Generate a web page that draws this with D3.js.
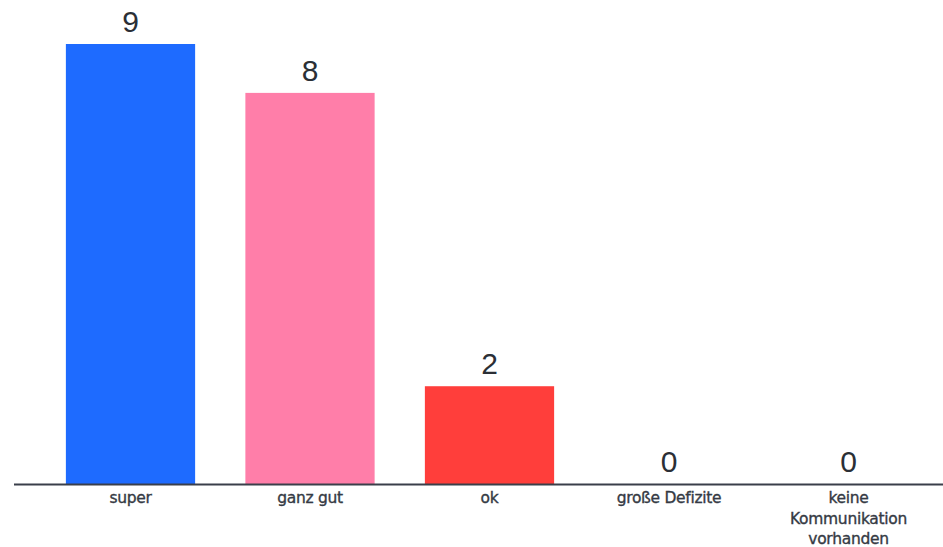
<!DOCTYPE html>
<html><head><meta charset="utf-8">
<script src="https://cdn.jsdelivr.net/npm/d3@7"></script>
<style>
html,body{margin:0;padding:0;background:#fff;}
svg{display:block;}
</style></head>
<body>
<svg id="chart" width="943" height="547"></svg>
<script>
const categories = ["super", "ganz gut", "ok", "große Defizite", "keine Kommunikation vorhanden"];
const categoryLines = [["super"], ["ganz gut"], ["ok"], ["große Defizite"], ["keine", "Kommunikation", "vorhanden"]];
const values = [9, 8, 2, 0, 0];
const colors = ["#1e6bff", "#ff7ea9", "#ff3e3b", "#999999", "#999999"];

const svg = d3.select("#chart");
const baseY = 484;
const x = d3.scaleBand().domain(categories).range([40.75, 938.25]).paddingInner(0.28).paddingOuter(0.14);
const y = d3.scaleLinear().domain([0, 9]).range([baseY, 44]);

svg.append("g").selectAll("rect").data(values).join("rect")
  .attr("x", (d, i) => x(categories[i]))
  .attr("width", x.bandwidth())
  .attr("y", d => y(d))
  .attr("height", d => y(0) - y(d))
  .attr("fill", (d, i) => colors[i]);

svg.append("g").selectAll("text").data(values).join("text")
  .attr("x", (d, i) => x(categories[i]) + x.bandwidth() / 2)
  .attr("y", d => y(d) - 12)
  .attr("text-anchor", "middle")
  .attr("font-family", "'Liberation Sans', Arial, sans-serif")
  .attr("font-size", 30)
  .attr("fill", "#2b2f36")
  .text(d => d);

svg.append("line")
  .attr("x1", 14).attr("x2", 943)
  .attr("y1", baseY + 0.5).attr("y2", baseY + 0.5)
  .attr("stroke", "#3a3f4a").attr("stroke-width", 2.2);

const lab = svg.append("g").selectAll("text").data(categories).join("text")
  .attr("x", d => x(d) + x.bandwidth() / 2)
  .attr("y", 503)
  .attr("text-anchor", "middle")
  .attr("font-family", "'DejaVu Sans', sans-serif")
  .attr("font-size", 15.5)
  .attr("letter-spacing", "-0.3px")
  .attr("fill", "#353a44")
  .attr("stroke", "#353a44")
  .attr("stroke-width", 0.35);
lab.each(function(d, i) {
  d3.select(this).selectAll("tspan").data(categoryLines[i]).join("tspan")
    .attr("x", x(d) + x.bandwidth() / 2)
    .attr("dy", (t, j) => j === 0 ? 0 : 20.5)
    .text(t => t);
});
</script>
</body></html>
